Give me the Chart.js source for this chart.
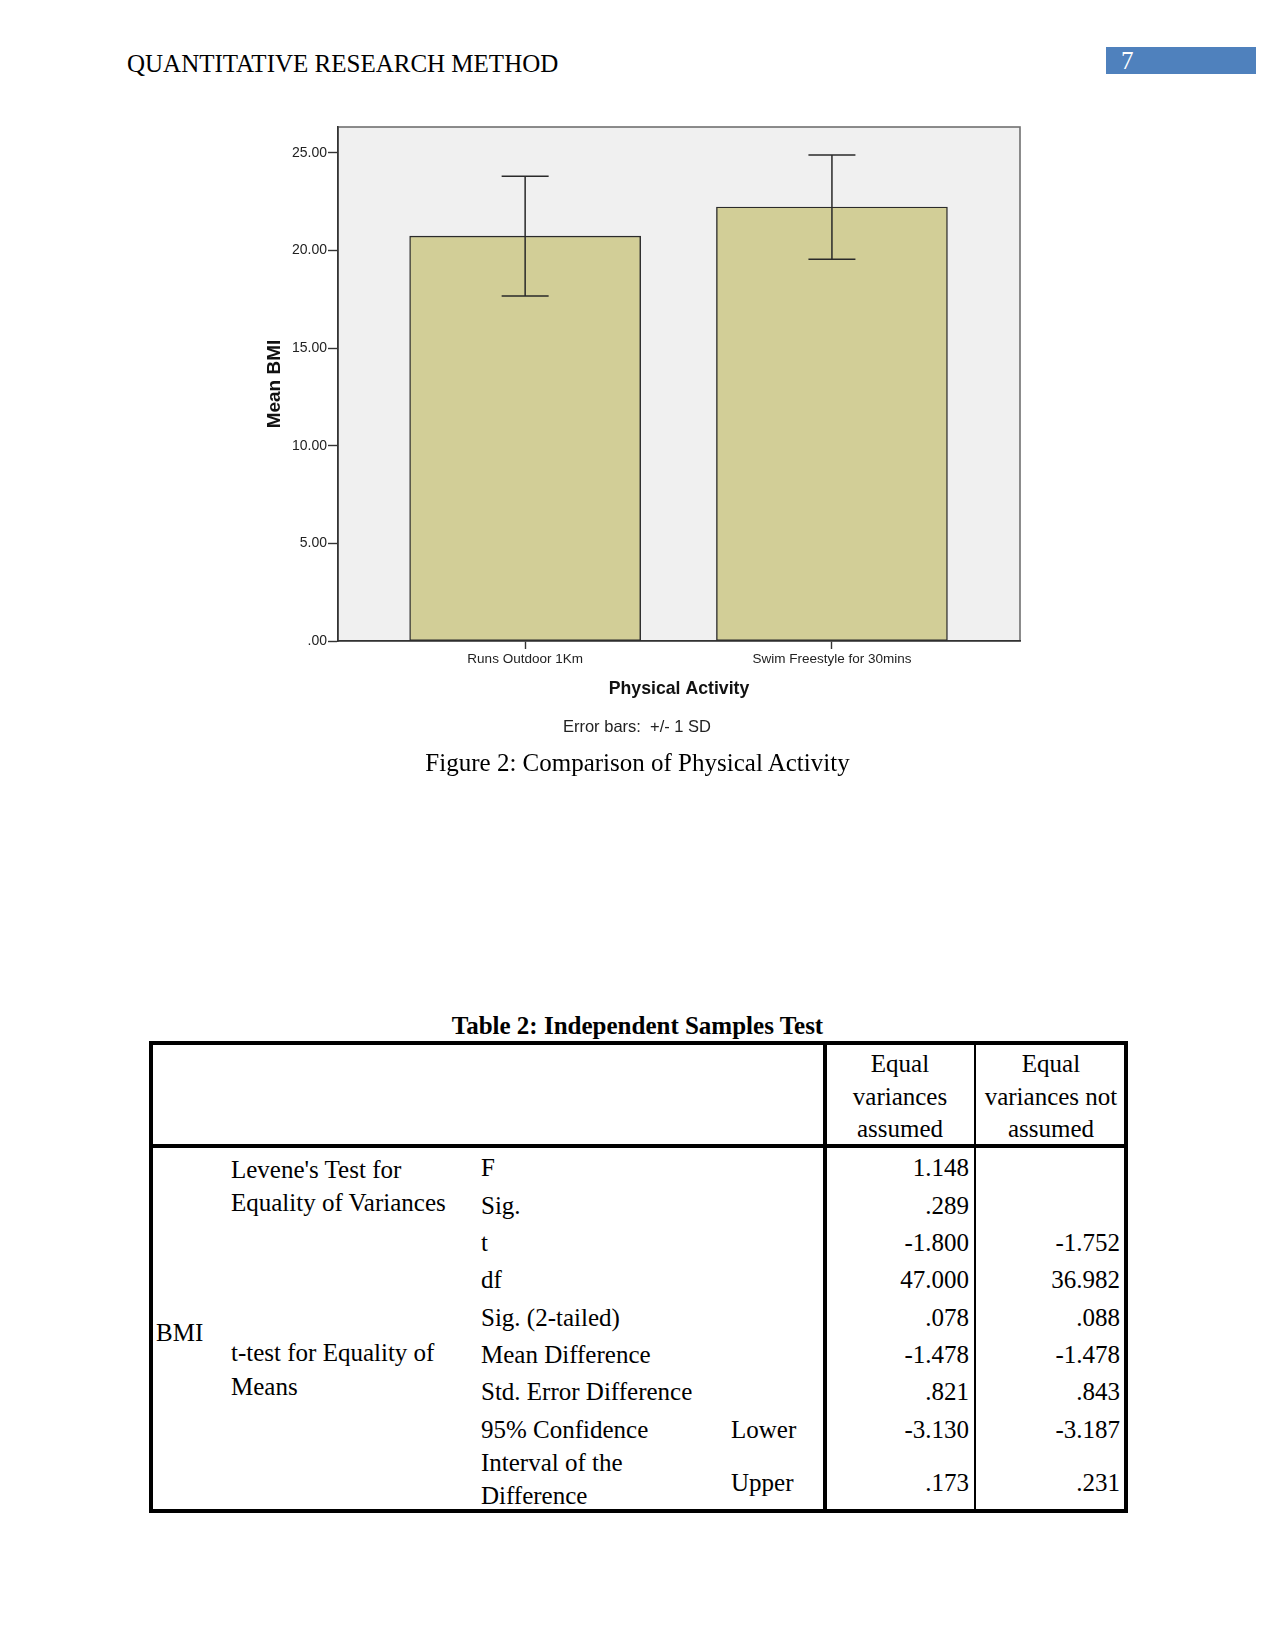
<!DOCTYPE html>
<html>
<head>
<meta charset="utf-8">
<script src="https://cdn.jsdelivr.net/npm/chart.js@4.4.1/dist/chart.umd.min.js"></script>
<style>
html,body{margin:0;padding:0;background:#fff;}
body{width:1275px;height:1650px;position:relative;overflow:hidden;font-family:"Liberation Serif","Times New Roman",serif;color:#000;}
.t{position:absolute;font-size:25px;line-height:32px;height:32px;white-space:nowrap;}
.b{font-weight:bold;}
.w{color:#fff;}
.line{position:absolute;background:#000;}
#pagebox{position:absolute;left:1106px;top:47px;width:150px;height:27px;background:#4F81BD;}
#chartWrap{position:absolute;left:240px;top:110px;width:800px;height:610px;}
#errnote{position:absolute;left:337px;width:600px;top:716px;text-align:center;font-family:"Liberation Sans",Arial,sans-serif;font-size:16.5px;line-height:20px;color:#222;}
#tableBox{position:absolute;left:149px;top:1041px;width:979px;height:472px;border:4px solid #000;box-sizing:border-box;}
</style>
</head>
<body>
<div id="pagebox"></div>
<div id="chartWrap"><canvas id="c" width="800" height="610" style="width:800px;height:610px;"></canvas></div>
<div id="errnote">Error bars:&nbsp; +/- 1 SD</div>
<div id="tableBox"></div>
<div class="line" style="left:149px;top:1144px;width:979px;height:4px;"></div>
<div class="line" style="left:823px;top:1041px;width:4px;height:472px;"></div>
<div class="line" style="left:973.5px;top:1041px;width:2.5px;height:472px;"></div>

<script>
// ---------- chart data ----------
const categories = ['Runs Outdoor 1Km', 'Swim Freestyle for 30mins'];
const meanBMI = [20.74, 22.23];
const sdBMI = [3.07, 2.67];
const yTickValues = [0, 5, 10, 15, 20, 25];
const xTitle = 'Physical Activity';
const yTitle = 'Mean BMI';

// ---------- table data ----------
const headerCol1 = ['Equal', 'variances', 'assumed'];
const headerCol2 = ['Equal', 'variances not', 'assumed'];
const rowLabels = ['F', 'Sig.', 't', 'df', 'Sig. (2-tailed)', 'Mean Difference', 'Std. Error Difference', '95% Confidence'];
const equalAssumed = ['1.148', '.289', '-1.800', '47.000', '.078', '-1.478', '.821', '-3.130', '.173'];
const equalNotAssumed = ['', '', '-1.752', '36.982', '.088', '-1.478', '.843', '-3.187', '.231'];

// ---------- page text helper ----------
function txt(s, x, base, align, cls) {
  const d = document.createElement('div');
  d.className = 't' + (cls ? ' ' + cls : '');
  d.textContent = s;
  d.style.top = (base - 24.4) + 'px';
  if (align === 'right') { d.style.right = (1275 - x) + 'px'; d.style.textAlign = 'right'; }
  else if (align === 'center') { d.style.left = (x - 300) + 'px'; d.style.width = '600px'; d.style.textAlign = 'center'; }
  else { d.style.left = x + 'px'; }
  document.body.appendChild(d);
}

txt('QUANTITATIVE RESEARCH METHOD', 127, 72);
txt('7', 1121, 69.5, 'left', 'w');
txt('Figure 2: Comparison of Physical Activity', 637.5, 771, 'center');
txt('Table 2: Independent Samples Test', 637.5, 1034.5, 'center', 'b');

const headBase = [1072.7, 1105, 1137.3];
headerCol1.forEach((s, i) => txt(s, 900, headBase[i], 'center'));
headerCol2.forEach((s, i) => txt(s, 1051, headBase[i], 'center'));

const rowBase = [1176.6, 1214, 1251, 1288.3, 1326, 1363.3, 1400.7, 1438.3, 1491];
rowLabels.forEach((s, i) => txt(s, 481, rowBase[i]));
txt('Interval of the', 481, 1471);
txt('Difference', 481, 1504);
txt('Lower', 731, rowBase[7]);
txt('Upper', 731, rowBase[8]);
equalAssumed.forEach((s, i) => { if (s) txt(s, 969, rowBase[i], 'right'); });
equalNotAssumed.forEach((s, i) => { if (s) txt(s, 1120, rowBase[i], 'right'); });
txt('BMI', 156, 1341);
txt("Levene's Test for", 231, 1178.5);
txt('Equality of Variances', 231, 1211);
txt('t-test for Equality of', 231, 1361);
txt('Means', 231, 1395);

// ---------- chart ----------
const framePlugin = {
  id: 'frame',
  beforeDraw(chart) {
    const {ctx, chartArea: a} = chart;
    ctx.save();
    ctx.fillStyle = '#F0F0F0';
    ctx.fillRect(a.left, a.top, a.right - a.left, a.bottom - a.top);
    ctx.strokeStyle = '#707070';
    ctx.lineWidth = 1.6;
    ctx.strokeRect(a.left, a.top, a.right - a.left, a.bottom - a.top);
    ctx.restore();
  }
};

const errorBarPlugin = {
  id: 'errorBars',
  afterDatasetsDraw(chart) {
    const {ctx, scales: {x, y}} = chart;
    ctx.save();
    ctx.strokeStyle = '#2a2a2a';
    ctx.lineWidth = 1.5;
    meanBMI.forEach((m, i) => {
      const px = x.getPixelForValue(i);
      const top = y.getPixelForValue(m + sdBMI[i]);
      const bot = y.getPixelForValue(m - sdBMI[i]);
      const half = 23.5;
      ctx.beginPath();
      ctx.moveTo(px, top); ctx.lineTo(px, bot);
      ctx.moveTo(px - half, top); ctx.lineTo(px + half, top);
      ctx.moveTo(px - half, bot); ctx.lineTo(px + half, bot);
      ctx.stroke();
    });
    ctx.restore();
  }
};

new Chart(document.getElementById('c').getContext('2d'), {
  type: 'bar',
  data: {
    datasets: [{
      data: categories.map((c, i) => ({x: i, y: meanBMI[i]})),
      backgroundColor: '#D2CE97',
      borderColor: '#2b2b2b',
      borderWidth: 1.4,
      borderSkipped: false,
      barThickness: 231
    }]
  },
  options: {
    responsive: false,
    animation: false,
    devicePixelRatio: 1,
    layout: {padding: {left: 0, right: 20, top: 17, bottom: 9}},
    plugins: {legend: {display: false}, tooltip: {enabled: false}, title: {display: false}},
    scales: {
      x: {
        type: 'linear',
        offset: false,
        min: -0.61,
        max: 1.613,
        afterBuildTicks: a => { a.ticks = categories.map((c, i) => ({value: i})); },
        afterFit: a => { a.height = 70; },
        grid: {offset: false, drawOnChartArea: false, drawTicks: true, tickLength: 8, tickColor: '#333', tickWidth: 1.4},
        border: {display: true, color: '#333', width: 1.6},
        ticks: {
          callback: v => categories[v] !== undefined ? categories[v] : '',
          autoSkip: false, maxRotation: 0, minRotation: 0, padding: 2,
          color: '#222', font: {family: 'Liberation Sans', size: 13.5}
        },
        title: {display: true, text: xTitle, color: '#111', font: {family: 'Liberation Sans', size: 17.7, weight: 'bold'}, padding: {top: 0, bottom: 11.5}}
      },
      y: {
        min: 0,
        max: 26.33,
        afterBuildTicks: a => { a.ticks = yTickValues.map(v => ({value: v})); },
        afterFit: a => { a.width = 98; },
        grid: {drawOnChartArea: false, drawTicks: true, tickLength: 10, tickColor: '#333', tickWidth: 1.4},
        border: {display: true, color: '#333', width: 1.6},
        ticks: {
          callback: v => v === 0 ? '.00' : Number(v).toFixed(2),
          padding: 1, color: '#222', font: {family: 'Liberation Sans', size: 14}
        },
        title: {display: true, text: yTitle, color: '#111', font: {family: 'Liberation Sans', size: 19, weight: 'bold'}, padding: {top: 23.6, bottom: 0}}
      }
    }
  },
  plugins: [framePlugin, errorBarPlugin]
});
</script>
</body>
</html>
